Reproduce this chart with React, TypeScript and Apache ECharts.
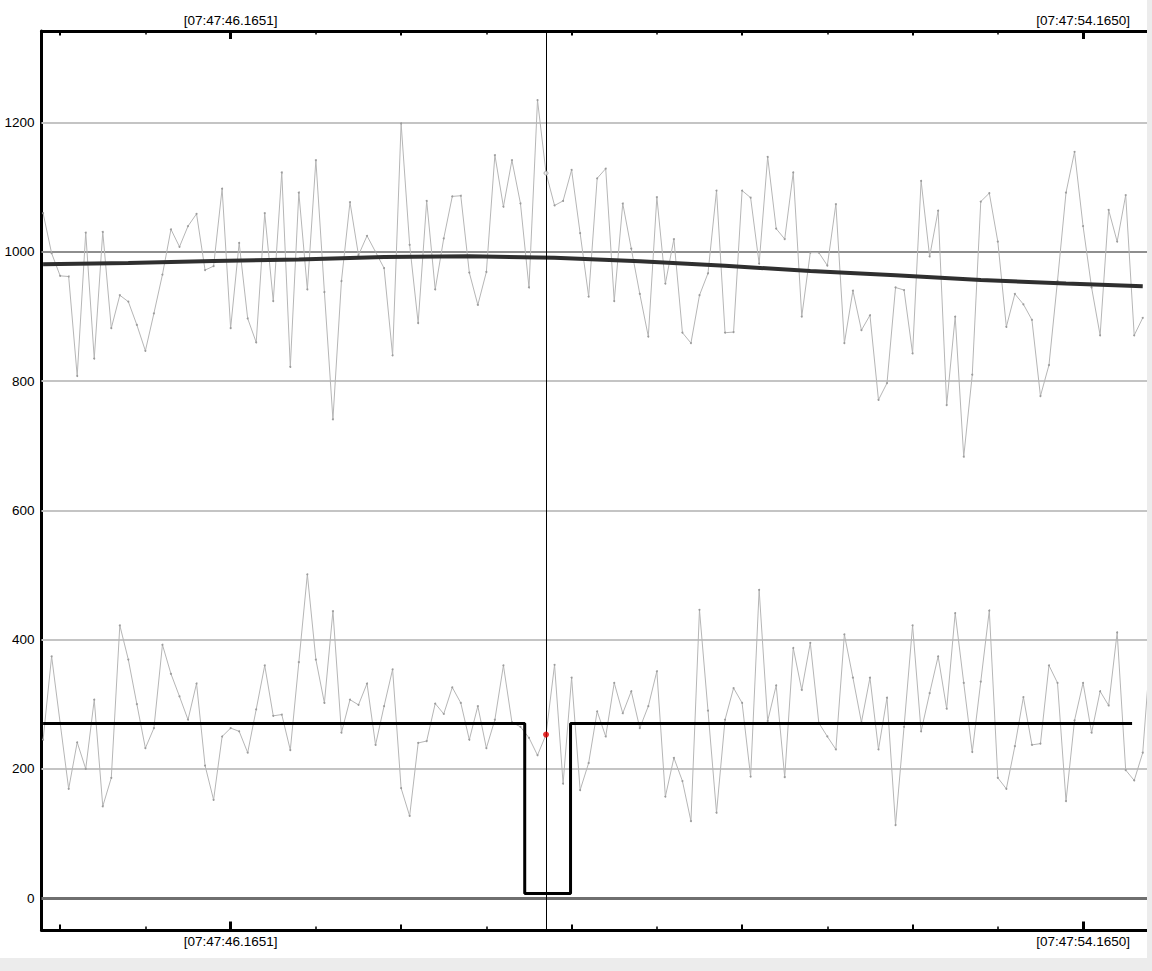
import React, { useEffect, useRef } from "react";
import * as echarts from "echarts";

// ---- data -------------------------------------------------------------
const SAMPLE_PERIOD = 0.08; // seconds between samples
const SAMPLE_AT_ZERO = 22; // sample index that falls on [07:47:46.1651]
const CURSOR_INDEX = 59;

const upperSignal = [
  1060, 998, 963, 962, 808, 1030, 835, 1031, 882, 933,
  923, 887, 847, 905, 965, 1035, 1008, 1040, 1059, 972,
  978, 1098, 882, 1014, 897, 860, 1060, 924, 1123, 822,
  1092, 942, 1142, 938, 741, 955, 1077, 995, 1025, 1000,
  975, 840, 1199, 1011, 890, 1079, 942, 1021, 1086, 1087,
  968, 918, 969, 1150, 1070, 1142, 1075, 945, 1235, 1122,
  1072, 1079, 1127, 1029, 931, 1114, 1129, 924, 1075, 1005,
  935, 869, 1085, 951, 1020, 875, 859, 933, 967, 1095,
  875, 876, 1095, 1084, 982, 1147, 1036, 1020, 1123, 900,
  999, 999, 979, 1074, 859, 940, 879, 902, 771, 797,
  945, 941, 843, 1110, 993, 1064, 763, 900, 683, 810,
  1078, 1091, 1016, 884, 935, 919, 895, 777, 825, 955,
  1092, 1155, 1040, 945, 871, 1065, 1016, 1088, 871, 898,
];

const lowerSignal = [
  245, 374, 271, 169, 241, 200, 307, 142, 186, 422,
  369, 300, 232, 263, 392, 347, 312, 276, 332, 205,
  152, 250, 263, 258, 225, 292, 360, 282, 284, 229,
  365, 501, 369, 302, 444, 256, 307, 299, 332, 237,
  297, 354, 170, 127, 240, 243, 301, 285, 326, 302,
  245, 297, 232, 276, 360, 272, 265, 248, 221, 253,
  361, 177, 341, 167, 209, 289, 250, 333, 286, 320,
  263, 297, 351, 157, 217, 181, 119, 446, 290, 132,
  276, 325, 302, 188, 477, 274, 329, 187, 387, 322,
  395, 271, 250, 230, 408, 341, 272, 341, 230, 310,
  113, 265, 422, 258, 317, 374, 293, 441, 333, 226,
  335, 445, 186, 169, 235, 311, 237, 239, 360, 333,
  150, 275, 333, 256, 320, 298, 411, 198, 182, 225,
  400,
];

const trendSampleIndex = [0, 10, 20, 30, 40, 50, 60, 70, 80, 90, 100, 110, 120, 129];
const trendValues = [981, 983, 986, 988.5, 992, 993.5, 991, 985.5, 978.5, 970.7, 964, 956.5, 951, 947];

const stepTimes = [-1.76, 2.76, 3.19, 8.46];
const stepValues = [270, 7, 270, 270];

const majorTicks = [0, 8];
const majorTickLabels = ["[07:47:46.1651]", "[07:47:54.1650]"];
const mediumTicks = [-1.6, 1.6, 3.2, 4.8, 6.4];
const smallTicks = [-0.8, 0.8, 2.4, 4.0, 5.6, 7.2];

const yTickValues = [0, 200, 400, 600, 800, 1000, 1200];
const yStrongLines = [0, 1000];

// ---- layout / style ---------------------------------------------------
const X_MIN = -1.775;
const X_MAX = 8.6;
const Y_MIN = -49.5;
const Y_MAX = 1342;
const FONT = "Liberation Sans";
const FONT_SIZE = 13.5;

const tOf = (i: number) => (i - SAMPLE_AT_ZERO) * SAMPLE_PERIOD;

function labelFor(v: number) {
  for (let k = 0; k < majorTicks.length; k++) {
    if (Math.abs(v - majorTicks[k]) < 1e-6) return majorTickLabels[k];
  }
  return "";
}

function xAxisDef(
  position: "top" | "bottom",
  ticks: number[],
  len: number,
  width: number,
  withLabels: boolean,
  showLine: boolean
) {
  return {
    type: "value",
    position,
    min: X_MIN,
    max: X_MAX,
    axisLine: { show: showLine, onZero: false, lineStyle: { color: "#000", width: 3 } },
    axisTick: {
      show: true,
      inside: true,
      length: len,
      customValues: ticks,
      lineStyle: { color: "#000", width },
    },
    axisLabel: withLabels
      ? {
          show: true,
          customValues: majorTicks,
          margin: 4,
          color: "#000",
          fontFamily: FONT,
          fontSize: FONT_SIZE,
          formatter: (v: number) => labelFor(v),
        }
      : { show: false },
    splitLine: { show: false },
  };
}

export default function App() {
  const ref = useRef<HTMLDivElement>(null);

  useEffect(() => {
    if (!ref.current) return;
    const chart = echarts.init(ref.current, undefined, { renderer: "svg" });

    const upperData = upperSignal.map((v, i) => [tOf(i), v]);
    const lowerData = lowerSignal.map((v, i) => [tOf(i), v]);
    const trendData = trendSampleIndex.map((idx, k) => [tOf(idx), trendValues[k]]);
    const stepData = stepTimes.map((t, k) => [t, stepValues[k]]);
    const cursorT = tOf(CURSOR_INDEX);

    const gridLineData = yTickValues.map((v) => ({
      yAxis: v,
      lineStyle: yStrongLines.includes(v)
        ? { color: v === 0 ? "#6f6f6f" : "#8e8e8e", width: v === 0 ? 3 : 2, type: "solid" }
        : { color: "#c4c4c4", width: 2, type: "solid" },
    }));

    const noisyStyle = {
      type: "line",
      xAxisIndex: 0,
      yAxisIndex: 0,
      showSymbol: true,
      symbol: "circle",
      symbolSize: 2,
      itemStyle: { color: "#9c9c9c" },
      lineStyle: { color: "#b6b6b6", width: 1 },
      silent: true,
      z: 2,
    };

    chart.setOption({
      animation: false,
      backgroundColor: "transparent",
      grid: { left: 41.5, right: 0, top: 31, bottom: 28, containLabel: false },
      xAxis: [
        xAxisDef("bottom", smallTicks, 3.5, 1.5, true, true),
        xAxisDef("bottom", mediumTicks, 5.5, 2, false, false),
        xAxisDef("bottom", majorTicks, 8.5, 3, false, false),
        xAxisDef("top", smallTicks, 3.5, 1.5, true, true),
        xAxisDef("top", mediumTicks, 4.5, 2, false, false),
        xAxisDef("top", majorTicks, 8, 3, false, false),
      ],
      yAxis: {
        type: "value",
        min: Y_MIN,
        max: Y_MAX,
        axisLine: { show: true, onZero: false, lineStyle: { color: "#000", width: 3 } },
        axisTick: { show: false, customValues: yTickValues },
        axisLabel: {
          customValues: yTickValues,
          margin: 7,
          color: "#000",
          fontFamily: FONT,
          fontSize: FONT_SIZE,
          formatter: (v: number) => String(Math.round(v)),
        },
        splitLine: { show: false },
      },
      series: [
        {
          name: "grid",
          type: "line",
          data: [],
          silent: true,
          z: 1,
          markLine: {
            silent: true,
            z: 1,
            symbol: ["none", "none"],
            label: { show: false },
            emphasis: { disabled: true },
            animation: false,
            data: gridLineData,
          },
        },
        { ...noisyStyle, name: "upper", data: upperData },
        { ...noisyStyle, name: "lower", data: lowerData },
        {
          name: "trend",
          type: "line",
          data: trendData,
          showSymbol: false,
          lineStyle: { color: "#2f2f2f", width: 4 },
          silent: true,
          z: 3,
        },
        {
          name: "state",
          type: "line",
          step: "end",
          data: stepData,
          showSymbol: false,
          lineStyle: { color: "#000", width: 3 },
          silent: true,
          z: 3,
          markLine: {
            silent: true,
            z: 4,
            symbol: ["none", "none"],
            label: { show: false },
            emphasis: { disabled: true },
            animation: false,
            data: [{ xAxis: cursorT, lineStyle: { color: "#000", width: 1, type: "solid" } }],
          },
        },
        {
          name: "cursorUpper",
          type: "scatter",
          data: [[cursorT, upperSignal[CURSOR_INDEX]]],
          symbolSize: 4,
          itemStyle: { color: "#fff", borderColor: "#999", borderWidth: 1 },
          silent: true,
          z: 5,
        },
        {
          name: "cursorLower",
          type: "scatter",
          data: [[cursorT, lowerSignal[CURSOR_INDEX]]],
          symbolSize: 6,
          itemStyle: { color: "#e00000" },
          silent: true,
          z: 5,
        },
      ],
    });

    return () => chart.dispose();
  }, []);

  return (
    <div
      style={{
        position: "fixed",
        left: 0,
        top: 0,
        width: 1152,
        height: 971,
        background: "#ececec",
      }}
    >
      <div
        ref={ref}
        style={{ position: "absolute", left: 0, top: 0, width: 1147, height: 958, background: "#fff" }}
      />
    </div>
  );
}
